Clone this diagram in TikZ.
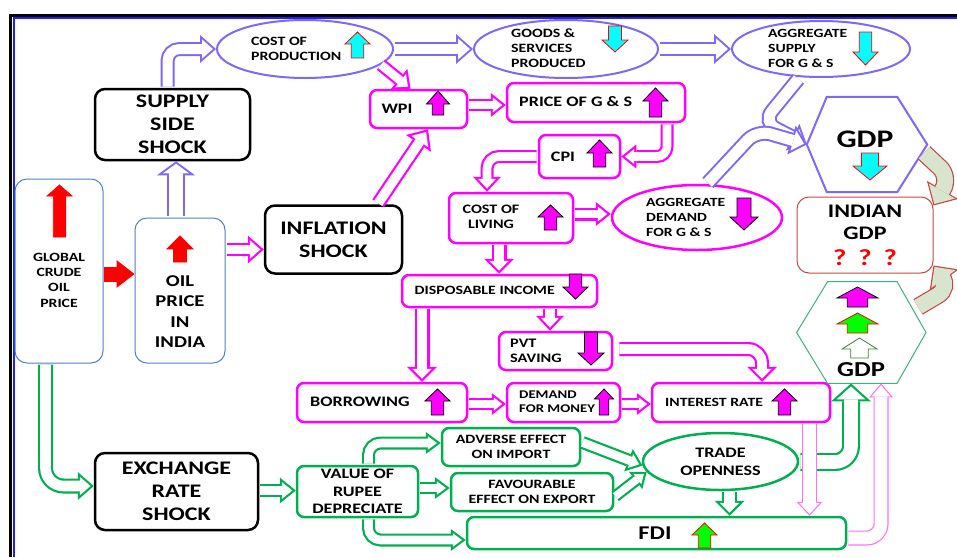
\documentclass[tikz,border=0pt]{standalone}
\usepackage{fontspec}
\setmainfont{Carlito}[FakeStretch=1.25]
\usetikzlibrary{arrows.meta, positioning, shapes.geometric, calc}

\definecolor{bluC}{RGB}{125,105,245}
\definecolor{magC}{RGB}{255,0,255}
\definecolor{lmagC}{RGB}{255,110,255}
\definecolor{grnC}{RGB}{0,176,80}
\definecolor{hexG}{RGB}{60,179,113}
\definecolor{stC}{RGB}{79,129,189}
\definecolor{redC}{RGB}{200,70,65}
\definecolor{lgrC}{RGB}{216,228,205}
\definecolor{cyaC}{RGB}{0,255,255}
\definecolor{limeC}{RGB}{0,255,0}
\definecolor{dgrC}{RGB}{60,130,60}
\definecolor{frameB}{RGB}{30,30,255}

\newcommand{\fsz}[2]{\fontsize{#1}{#2}\selectfont}

% block arrow: x, y, width, length, head, dir (1 up / -1 down), fill, outline
\newcommand{\blk}[8]{%
  \pgfmathsetmacro{\blkT}{#2-(#6)*#4/2}%
  \pgfmathsetmacro{\blkB}{#2-(#6)*(#4/2-#5)}%
  \pgfmathsetmacro{\blkE}{#2+(#6)*#4/2}%
  \pgfmathsetmacro{\blkS}{#3/4}%
  \pgfmathsetmacro{\blkW}{#3/2}%
  \filldraw[fill=#7, draw=#8, line width=0.8pt, line join=miter]
    ({#1},{\blkT}) -- ({#1+\blkW},{\blkB}) -- ({#1+\blkS},{\blkB})
    -- ({#1+\blkS},{\blkE}) -- ({#1-\blkS},{\blkE})
    -- ({#1-\blkS},{\blkB}) -- ({#1-\blkW},{\blkB}) -- cycle;}

% hollow arrow: outer colour, inner colour, shaft, rim, head width, head length, options, path
\newcommand{\hollow}[8]{%
  \pgfmathsetmacro{\hoD}{#4/sin(atan(#5/(2*#6)))}%
  \pgfmathsetmacro{\hoL}{#6-#4-\hoD}%
  \pgfmathsetmacro{\hoW}{\hoL*#5/#6}%
  \pgfmathsetmacro{\hoS}{#3-2*#4}%
  \draw[#1, line width=#3pt, shorten <=1.2pt, #7,
        -{Triangle[length=#6pt, width=#5pt, line width=0pt]}] #8;
  \draw[#2, line width=\hoS pt, shorten <=1.2pt, #7, shorten >=\hoD pt,
        -{Triangle[length=\hoL pt, width=\hoW pt, line width=0pt]}] #8;}

\begin{document}
\begin{tikzpicture}[x=1pt, y=-1pt, font=\bfseries,
    kbox/.style={draw=black, line width=2.5pt, rounded corners=10pt, align=center,
                 inner sep=2pt, font=\bfseries\fsz{19.2}{23}},
    mbox/.style={draw=magC, line width=2.5pt, rounded corners=7pt, inner sep=0pt},
    gbox/.style={draw=grnC, line width=2.5pt, rounded corners=7pt, align=center, inner sep=2pt},
    obox/.style={draw=stC, line width=1pt, rounded corners=12pt, inner sep=0pt},
    bell/.style={ellipse, draw=bluC, line width=2pt, inner sep=0pt},
    mell/.style={ellipse, draw=magC, line width=2.5pt, inner sep=0pt},
    gell/.style={ellipse, draw=grnC, line width=2.5pt, inner sep=0pt, align=center},
    tx/.style={inner sep=0pt, align=left},
    tc/.style={inner sep=0pt, align=center}]

\useasboundingbox (0,0) rectangle (957,557);
% frame
\draw[black, line width=3pt] (10.7,557) -- (10.7,15.3) -- (957,15.3);
\draw[frameB, line width=2pt] (13.5,557) -- (13.5,17.8) -- (957,17.8);

% supply side
\node[bell, minimum width=176pt, minimum height=58pt] (cop) at (305,49) {};
\node[tx, anchor=west, font=\bfseries\fsz{12.7}{15}] (cop-t) at (251,48.5) {COST OF\\PRODUCTION};
\node[bell, minimum width=184pt, minimum height=58pt] (goods) at (566,49) {};
\node[tx, anchor=west, font=\bfseries\fsz{12.7}{15}] (goods-t) at (511,48) {GOODS \&\\SERVICES\\PRODUCED};
\node[bell, minimum width=178pt, minimum height=56pt] (aggs) at (821,49) {};
\node[tx, anchor=west, font=\bfseries\fsz{12.5}{15}] (aggs-t) at (768,48) {AGGREGATE\\SUPPLY\\FOR G \& S};
\node[kbox, minimum width=155pt, minimum height=71pt] (supply) at (172.5,124.5) {SUPPLY\\SIDE\\SHOCK};

% oil
\node[obox, minimum width=88pt, minimum height=184pt] (global) at (59,271) {};
\node[tc, font=\bfseries\fsz{12.6}{15.3}] (global-t) at (59,280) {GLOBAL\\CRUDE\\OIL\\PRICE};
\node[obox, minimum width=90pt, minimum height=145pt] (oil) at (180,290.5) {};
\node[tc, font=\bfseries\fsz{16.5}{20.3}] (oil-t) at (180,311.5) {OIL\\PRICE\\IN\\INDIA};
\node[kbox, minimum width=137pt, minimum height=68pt] (infl) at (333.5,239.5) {INFLATION\\SHOCK};
\node[kbox, minimum width=163pt, minimum height=77pt] (exch) at (176.5,491.5) {EXCHANGE\\RATE\\SHOCK};

% inflation side
\node[mbox, minimum width=97pt, minimum height=38pt] (wpi) at (418.5,109) {};
\node[tc, font=\bfseries\fsz{14.5}{17}] (wpi-t) at (397,109) {WPI};
\node[mbox, minimum width=178pt, minimum height=39pt] (price) at (596,102.5) {};
\node[tx, anchor=west, font=\bfseries\fsz{14.5}{17}] (price-t) at (519,102) {PRICE OF G \& S};
\node[mbox, minimum width=81pt, minimum height=43pt] (cpi) at (579.5,156.5) {};
\node[tc, font=\bfseries\fsz{14.5}{17}] (cpi-t) at (563,157) {CPI};
\node[mbox, minimum width=124pt, minimum height=50pt] (col) at (511,218) {};
\node[tc, font=\bfseries\fsz{12.9}{15}] (col-t) at (491,217) {COST OF\\LIVING};
\node[mell, minimum width=170pt, minimum height=65pt] (aggd) at (697,217.5) {};
\node[tx, anchor=west, font=\bfseries\fsz{12.5}{15.3}] (aggd-t) at (646,217.5) {AGGREGATE\\DEMAND\\FOR G \& S};
\node[mbox, minimum width=195pt, minimum height=32pt] (di) at (499.5,291) {};
\node[tx, anchor=west, font=\bfseries\fsz{12.7}{15}] (di-t) at (414.5,290) {DISPOSABLE INCOME};
\node[mbox, minimum width=113pt, minimum height=38pt] (pvt) at (555.5,351) {};
\node[tx, anchor=west, font=\bfseries\fsz{13}{14.5}] (pvt-t) at (510,351) {PVT\\SAVING};
\node[mbox, minimum width=170pt, minimum height=39pt] (borrow) at (382,402.5) {};
\node[tx, anchor=west, font=\bfseries\fsz{14.5}{17}] (borrow-t) at (310,402) {BORROWING};
\node[mbox, minimum width=113pt, minimum height=39pt] (dfm) at (563.5,402.5) {};
\node[tx, anchor=west, font=\bfseries\fsz{11.8}{14}] (dfm-t) at (519,402) {DEMAND\\FOR MONEY};
\node[mbox, minimum width=178pt, minimum height=39pt] (ir) at (741,402.5) {};
\node[tx, anchor=west, font=\bfseries\fsz{12.6}{15}] (ir-t) at (665,402) {INTEREST RATE};

% exchange side
\node[gbox, minimum width=121pt, minimum height=51pt, font=\bfseries\fsz{14.5}{17.5}] (vor) at (357.5,491.5) {VALUE OF\\RUPEE\\DEPRECIATE};
\node[gbox, minimum width=138pt, minimum height=38pt, font=\bfseries\fsz{12.7}{15}] (adv) at (511,447) {ADVERSE EFFECT\\ON IMPORT};
\node[gbox, minimum width=162pt, minimum height=38pt, font=\bfseries\fsz{12.7}{14.3}] (fav) at (532,492) {FAVOURABLE\\EFFECT ON EXPORT};
\node[gell, minimum width=155pt, minimum height=57pt, font=\bfseries\fsz{14.5}{18}] (trade) at (720.5,461.5) {TRADE\\OPENNESS};
\node[gbox, minimum width=379pt, minimum height=32pt] (fdi) at (656.5,533) {};
\node[tc, font=\bfseries\fsz{19.5}{22}] (fdi-t) at (655,533) {FDI};

% gdp
\node[inner sep=0pt, minimum width=120pt, minimum height=95pt] (gdpB) at (867,144.5) {};
\draw[bluC, line width=2pt] (gdpB.west) -- ([xshift=20pt]gdpB.north west) -- ([xshift=-30pt]gdpB.north east)
  -- (gdpB.east) -- ([xshift=-30pt]gdpB.south east) -- ([xshift=20pt]gdpB.south west) -- cycle;
\node[tc, font=\bfseries\fsz{25.3}{30}] (gdpB-t) at (865,139) {GDP};
\node[inner sep=0pt, minimum width=129pt, minimum height=101.5pt] (gdpG) at (861.3,332.5) {};
\draw[hexG, line width=1pt] (gdpG.west) -- ([xshift=31pt]gdpG.north west) -- ([xshift=-29pt]gdpG.north east)
  -- (gdpG.east) -- ([xshift=-29pt]gdpG.south east) -- ([xshift=31pt]gdpG.south west) -- cycle;
\node[tc, font=\bfseries\fsz{21.3}{25}] (gdpG-t) at (861,369.5) {GDP};
\node[draw=redC, line width=1pt, rounded corners=12pt, minimum width=136pt, minimum height=76pt,
      align=center, font=\bfseries\fsz{19.2}{22}] (indian) at (865,235)
      {INDIAN\\GDP\\[4pt]{\fsz{23}{26}\textcolor{red}{?\hspace{12pt}?\hspace{12pt}?}}};

% small arrows
\blk{357.5}{45}{25}{26}{12}{1}{cyaC}{red}
\blk{615}{39}{26}{26}{12}{-1}{cyaC}{red}
\blk{865.5}{48.5}{25}{33}{13}{-1}{cyaC}{red}
\blk{870}{166.5}{34}{27}{14}{-1}{cyaC}{red}
\blk{59.5}{211}{25}{52}{11}{1}{red}{red}
\blk{180}{249}{26}{26}{13}{1}{red}{red}
\blk{438}{103}{23}{24}{13}{1}{magC}{black}
\blk{655.5}{102.5}{25}{29}{13}{1}{magC}{black}
\blk{599.5}{153.5}{25}{27}{13}{1}{magC}{black}
\blk{550.5}{217.5}{25}{25}{12}{1}{magC}{black}
\blk{744}{214}{28}{32}{13}{-1}{magC}{black}
\blk{575.5}{286.5}{25}{25}{12}{-1}{magC}{black}
\blk{591}{348.5}{26}{33}{12}{-1}{magC}{black}
\blk{437.5}{402}{25}{26}{12}{1}{magC}{black}
\blk{604}{402}{19}{26}{10}{1}{magC}{black}
\blk{784.5}{402}{25}{26}{12}{1}{magC}{black}
\blk{704.5}{535.5}{25}{25}{12}{1}{limeC}{red}
\blk{857.5}{297}{41}{20}{11}{1}{magC}{black}
\blk{857.5}{323}{41}{20}{11}{1}{limeC}{red}
\blk{859.5}{348}{35}{20}{11}{1}{white}{dgrC}

% oil arrow
\draw[red, line width=15pt, -{Triangle[length=18pt, width=28pt, line width=0pt]}]
  (global.east |- 0,274) -- (oil.west |- 0,274);

% blue connectors
\hollow{bluC}{white}{14}{2}{28}{16}{rounded corners=12pt}{([xshift=-5pt]supply.north) |- (cop.west)}
\hollow{bluC}{white}{14}{2}{30}{17}{}{(cop.east) -- (goods.west)}
\hollow{bluC}{white}{14}{2}{30}{17}{}{(goods.east) -- (aggs.west)}
\hollow{bluC}{white}{18}{2}{38}{14}{}{(oil.north -| 176,0) -- (supply.south -| 176,0)}
\hollow{bluC}{white}{15}{2}{30}{16}{rounded corners=14pt}{([xshift=-22pt]aggs.south) -- (763,122) -- (gdpB.west)}
\hollow{bluC}{white}{15}{2}{30}{16}{rounded corners=14pt}{([xshift=10pt]aggd.north) -- (757,130) -- (gdpB.west)}

% magenta connectors
\hollow{magC}{white}{13}{2.2}{28}{16}{}{(oil.east |- 0,249.5) -- (infl.west |- 0,249.5)}
\hollow{magC}{white}{14}{2.2}{30}{17}{}{([xshift=44pt]infl.north) -- ([xshift=9.5pt]wpi.south)}
\hollow{magC}{white}{13}{2.2}{27}{15}{}{([xshift=75pt,yshift=-15pt]cop.center) -- ([xshift=-8pt]wpi.north)}
\hollow{magC}{white}{12}{2.2}{24}{15}{}{(wpi.east |- 0,105) -- (price.west |- 0,105)}
\hollow{magC}{white}{13}{2.2}{24}{15}{rounded corners=10pt}{([xshift=71pt]price.south) |- (cpi.east)}
\hollow{magC}{white}{13}{2.2}{28}{15}{rounded corners=12pt}{(cpi.west) -| ([xshift=-24pt]col.north)}
\hollow{magC}{white}{13}{2.2}{24}{15}{}{(col.east |- 0,214) -- (aggd.west |- 0,214)}
\hollow{magC}{white}{15}{2.2}{30}{15}{}{(col.south -| 499,0) -- (di.north -| 499,0)}
\hollow{magC}{white}{14}{2.2}{28}{15}{}{(di.south -| 550,0) -- (pvt.north -| 550,0)}
\hollow{magC}{white}{14}{2.2}{30}{15}{rounded corners=14pt, shorten <=6pt}{(pvt.east |- 0,349) -| (ir.north -| 762,0)}
\hollow{magC}{white}{15}{2.2}{30}{15}{}{(di.south -| 422,0) -- (borrow.north -| 422,0)}
\hollow{magC}{white}{12}{2.2}{22}{14}{}{(borrow.east |- 0,404) -- (dfm.west |- 0,404)}
\hollow{magC}{white}{12}{2.2}{22}{14}{}{(dfm.east |- 0,404) -- (ir.west |- 0,404)}

% green connectors
\hollow{grnC}{white}{15}{2.2}{28}{16}{rounded corners=18pt}{(global.south -| 45.5,0) |- (exch.west |- 0,486)}
\hollow{grnC}{white}{13}{2.2}{26}{16}{}{(exch.east |- 0,490.5) -- (vor.west |- 0,490.5)}
\hollow{grnC}{white}{13}{2.2}{22}{15}{rounded corners=12pt}{(vor.north -| 368.5,0) |- (adv.west |- 0,443)}
\hollow{grnC}{white}{12}{2.2}{22}{15}{}{(vor.east |- 0,488) -- (fav.west |- 0,488)}
\hollow{grnC}{white}{13}{2.2}{22}{15}{rounded corners=12pt}{(vor.south -| 368.5,0) |- (fdi.west |- 0,540)}
\hollow{grnC}{white}{13}{2.2}{24}{15}{}{(adv.east |- 0,442) -- (trade.183)}
\hollow{grnC}{white}{12}{2.2}{22}{14}{}{(fav.east |- 0,497) -- (trade.188)}
\hollow{grnC}{white}{15}{2.2}{30}{15}{}{(trade.south -| 729.5,0) -- (fdi.north -| 729.5,0)}
\hollow{grnC}{white}{18}{2.2}{40}{18}{rounded corners=16pt}{(trade.east |- 0,462) -| (gdpG.south -| 851,0)}

% light connectors
\hollow{lmagC}{white}{15}{1.2}{26}{14}{}{(ir.south -| 809.5,0) -- (fdi.north -| 809.5,0)}
\hollow{lmagC}{white}{15}{1.2}{24}{14}{rounded corners=14pt}{(fdi.east |- 0,538) -| (gdpG.south -| 881,0)}
\hollow{redC}{lgrC}{18}{1.2}{36}{18}{rounded corners=14pt}{([xshift=-4pt,yshift=-7.5pt]gdpB.east) -- (950,177) -- ([yshift=-9pt]indian.north east)}
\hollow{redC}{lgrC}{18}{1.2}{36}{18}{rounded corners=14pt}{([xshift=-9pt,yshift=25pt]gdpG.east) -- (950,288) -- ([yshift=8pt]indian.south east)}
\end{tikzpicture}
\end{document}
